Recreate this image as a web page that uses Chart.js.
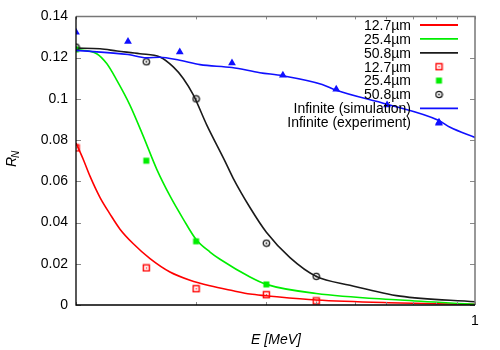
<!DOCTYPE html>
<html>
<head>
<meta charset="utf-8">
<script src="https://cdn.jsdelivr.net/npm/chart.js@4/dist/chart.umd.min.js"></script>
<style>
  html, body { margin: 0; padding: 0; background: #fff; }
  #wrap { width: 500px; height: 350px; }
</style>
</head>
<body>
<div id="wrap"><canvas id="chart" width="500" height="350"></canvas></div>
<script>
// Energies (MeV) and R_N values
const redSimE = [0.1, 0.1043, 0.1084, 0.1149, 0.1217, 0.1289, 0.1392, 0.1533, 0.172, 0.1931, 0.2167, 0.2478, 0.273, 0.3, 0.4, 0.649, 1];
const redSimR = [0.0786, 0.0706, 0.0625, 0.0521, 0.0441, 0.0368, 0.0297, 0.0225, 0.016, 0.012, 0.0093, 0.0069, 0.0053, 0.0045, 0.0024, 0.001, 0.0003];
const greenSimE = [0.1, 0.1127, 0.1194, 0.1265, 0.1365, 0.1475, 0.1594, 0.172, 0.1857, 0.2, 0.2167, 0.2296, 0.273, 0.3, 0.4, 0.649, 1];
const greenSimR = [0.124, 0.1219, 0.1171, 0.1091, 0.097, 0.0818, 0.0658, 0.0529, 0.0417, 0.0318, 0.0257, 0.0222, 0.0136, 0.01, 0.0056, 0.0024, 0.0003];
const blackSimE = [0.1, 0.1149, 0.1267, 0.1446, 0.1623, 0.1753, 0.1857, 0.1968, 0.2126, 0.2362, 0.2474, 0.2729, 0.3, 0.3438, 0.4, 0.486, 0.649, 1];
const blackSimR = [0.1246, 0.1243, 0.1232, 0.1219, 0.1203, 0.1155, 0.1099, 0.1019, 0.0874, 0.0698, 0.0617, 0.0473, 0.0353, 0.023, 0.0139, 0.0096, 0.0043, 0.0016];

const redExpE = [0.1, 0.15, 0.2, 0.3, 0.4];
const redExpR = [0.0762, 0.018, 0.0079, 0.005, 0.002];
const greenExpE = [0.1, 0.15, 0.2, 0.3];
const greenExpR = [0.124, 0.070, 0.0309, 0.010];
const blackExpE = [0.1, 0.15, 0.2, 0.3, 0.4];
const blackExpR = [0.1251, 0.118, 0.100, 0.030, 0.0139];

const infSimE = [0.1, 0.135, 0.15, 0.1623, 0.182, 0.2046, 0.246, 0.289, 0.33, 0.414, 0.449, 0.602, 0.812, 0.866, 1];
const infSimR = [0.1235, 0.1215, 0.1199, 0.1202, 0.1187, 0.1166, 0.1152, 0.1127, 0.1112, 0.107, 0.1042, 0.0974, 0.0895, 0.0862, 0.0813];
const infExpE = [0.1, 0.135, 0.182, 0.246, 0.33, 0.449, 0.602, 0.812];
const infExpR = [0.1323, 0.1278, 0.1227, 0.1174, 0.1115, 0.1046, 0.097, 0.0882];

const xTicks = [0.1, 0.2, 0.3, 0.4, 0.5, 0.6, 0.7, 0.8, 0.9, 1];
const yTicks = [0, 0.02, 0.04, 0.06, 0.08, 0.1, 0.12, 0.14];

const FONT = '"Liberation Sans", Arial, sans-serif';
const RED = "#ff0000", GREEN = "#00ee00", BLACK = "#1a1a1a", BLUE = "#1010ff";

const pts = (xs, ys) => xs.map((x, i) => ({ x: x, y: ys[i] }));

// small canvases used as gnuplot-like point symbols
function symbol(draw) {
  const c = document.createElement("canvas");
  c.width = 9; c.height = 9;
  draw(c.getContext("2d"));
  return c;
}
const redBox = symbol((g) => {
  g.strokeStyle = RED; g.lineWidth = 1.4;
  g.strokeRect(1.5, 1.5, 6, 6);
  g.fillStyle = RED; g.fillRect(4, 4, 1.2, 1.2);
});
const greenBox = symbol((g) => {
  g.fillStyle = GREEN; g.fillRect(1.5, 1.5, 6, 6);
});
const blackRing = symbol((g) => {
  g.strokeStyle = BLACK; g.lineWidth = 1.3;
  g.beginPath(); g.arc(4.5, 4.5, 3.2, 0, Math.PI * 2); g.stroke();
  g.fillStyle = BLACK; g.beginPath(); g.arc(4.5, 4.5, 0.9, 0, Math.PI * 2); g.fill();
});

function simLine(label, xs, ys, color, order) {
  return {
    label, data: pts(xs, ys), borderColor: color, backgroundColor: color,
    borderWidth: 1.6, pointRadius: 0, cubicInterpolationMode: "monotone",
    showLine: true, order, kind: "line",
  };
}
function expPts(label, xs, ys, style, color, order, radius) {
  return {
    label, data: pts(xs, ys), showLine: false, pointStyle: style,
    pointRadius: radius || 4, backgroundColor: color, borderColor: color,
    borderWidth: 0, order, kind: "point",
  };
}

const datasets = [
  simLine("12.7\u00b5m", redSimE, redSimR, RED, 7),
  simLine("25.4\u00b5m", greenSimE, greenSimR, GREEN, 6),
  simLine("50.8\u00b5m", blackSimE, blackSimR, BLACK, 5),
  expPts("12.7\u00b5m", redExpE, redExpR, redBox, RED, 4),
  expPts("25.4\u00b5m", greenExpE, greenExpR, greenBox, GREEN, 3),
  expPts("50.8\u00b5m", blackExpE, blackExpR, blackRing, BLACK, 2),
  simLine("Infinite (simulation)", infSimE, infSimR, BLUE, 1),
  expPts("Infinite (experiment)", infExpE, infExpR, "triangle", BLUE, 0, 4.5),
];

// frame, inside ticks, axis titles and gnuplot style key
const decor = {
  id: "decor",
  afterDraw(chart) {
    const { ctx, chartArea: a, scales } = chart;
    const xs = scales.x, ys = scales.y;
    ctx.save();
    // ticks
    ctx.strokeStyle = "#888"; ctx.lineWidth = 1;
    ctx.beginPath();
    yTicks.forEach((v) => {
      const py = Math.round(ys.getPixelForValue(v)) + 0.5;
      ctx.moveTo(a.left, py); ctx.lineTo(a.left + 5, py);
      ctx.moveTo(a.right, py); ctx.lineTo(a.right - 5, py);
    });
    xTicks.forEach((v) => {
      const px = Math.round(xs.getPixelForValue(v)) + 0.5;
      ctx.moveTo(px, a.top); ctx.lineTo(px, a.top + 3);
      ctx.moveTo(px, a.bottom); ctx.lineTo(px, a.bottom - 3);
    });
    ctx.stroke();
    // border: grey top/right, black left/bottom
    ctx.strokeStyle = "#777"; ctx.lineWidth = 1.5;
    ctx.beginPath();
    ctx.moveTo(a.left, a.top); ctx.lineTo(a.right, a.top); ctx.lineTo(a.right, a.bottom);
    ctx.stroke();
    ctx.strokeStyle = "#000"; ctx.lineWidth = 1.3;
    ctx.beginPath();
    ctx.moveTo(a.left, a.top); ctx.lineTo(a.left, a.bottom); ctx.lineTo(a.right, a.bottom);
    ctx.stroke();

    // titles
    ctx.fillStyle = "#000";
    ctx.font = "italic 14px " + FONT;
    ctx.textAlign = "center"; ctx.textBaseline = "middle";
    ctx.fillText("E [MeV]", 276, 340);
    ctx.save();
    ctx.translate(12, 160); ctx.rotate(-Math.PI / 2);
    ctx.textAlign = "left";
    ctx.fillText("R", -7, 0);
    ctx.font = "italic 10px " + FONT;
    ctx.fillText("N", 2, 4);
    ctx.restore();

    // key
    ctx.font = "14px " + FONT;
    ctx.textAlign = "right"; ctx.textBaseline = "middle";
    const textX = 411, sx0 = 420, sx1 = 458, y0 = 25, dy = 13.9;
    chart.data.datasets.forEach((ds, i) => {
      const yy = y0 + i * dy;
      ctx.fillStyle = "#000";
      ctx.fillText(ds.label, textX, yy + 1);
      if (ds.kind === "line") {
        ctx.strokeStyle = ds.borderColor; ctx.lineWidth = 1.8;
        ctx.beginPath(); ctx.moveTo(sx0, yy); ctx.lineTo(sx1, yy); ctx.stroke();
      } else {
        const cx = (sx0 + sx1) / 2;
        if (ds.pointStyle === "triangle") {
          ctx.fillStyle = ds.backgroundColor;
          Chart.helpers.drawPoint(ctx, { pointStyle: "triangle", radius: 4.5, borderWidth: 0 }, cx, yy);
        } else {
          ctx.drawImage(ds.pointStyle, cx - 4.5, yy - 4.5);
        }
      }
    });
    ctx.restore();
  },
};

new Chart(document.getElementById("chart"), {
  type: "scatter",
  data: { datasets },
  options: {
    responsive: false,
    animation: false,
    events: [],
    layout: { padding: { top: 14, right: 25, left: 0, bottom: 0 } },
    plugins: { legend: { display: false }, tooltip: { enabled: false } },
    scales: {
      x: {
        type: "logarithmic",
        min: 0.1, max: 1,
        afterBuildTicks: (s) => { s.ticks = xTicks.map((v) => ({ value: v })); },
        afterFit: (s) => { s.height = 45; },
        grid: { display: false, drawTicks: false },
        border: { display: false },
        ticks: {
          autoSkip: false, maxRotation: 0, padding: 8, color: "#000",
          font: { family: FONT, size: 14 },
          callback: (v) => (v === 1 ? "1" : ""),
        },
      },
      y: {
        min: 0, max: 0.14,
        afterBuildTicks: (s) => { s.ticks = yTicks.map((v) => ({ value: v })); },
        afterFit: (s) => { s.width = 76; },
        grid: { display: false, drawTicks: false },
        border: { display: false },
        ticks: {
          padding: 8, color: "#000",
          font: { family: FONT, size: 14 },
          callback: (v) => String(+v.toFixed(2)),
        },
      },
    },
  },
  plugins: [decor],
});
</script>
</body>
</html>
